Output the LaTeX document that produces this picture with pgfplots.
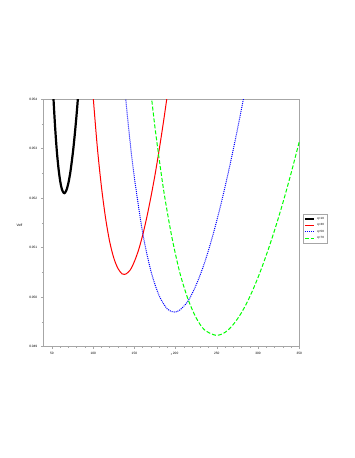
\documentclass[border=0pt]{standalone}
\usepackage{fontspec}
\setmainfont{Liberation Sans}
\usepackage{pgfplots}
\pgfplotsset{compat=1.18}

\begin{document}
\begin{tikzpicture}
\path[use as bounding box] (-43.3pt,-111.3pt) rectangle (310.7pt,346.7pt);
\begin{axis}[
  scale only axis,
  width=256pt, height=247.7pt,
  xmin=39.5, xmax=350,
  ymin=0.049, ymax=0.054,
  xtick={50,100,...,350},
  ytick={0.049,0.050,0.051,0.052,0.053,0.054},
  minor x tick num=4,
  minor y tick num=1,
  xtick pos=bottom, ytick pos=left,
  tick align=outside,
  major tick length=2.5pt, minor tick length=1.5pt,
  axis line style={gray!70, line width=0.8pt},
  tick style={gray!70, line width=0.5pt},
  /pgf/number format/assume math mode=true,
  yticklabel style={/pgf/number format/fixed, /pgf/number format/precision=3,
    /pgf/number format/fixed zerofill, font=\fontsize{3.2}{3.6}\selectfont},
  xticklabel style={font=\fontsize{3.2}{3.6}\selectfont},
  scaled y ticks=false,
  xlabel={r}, ylabel={Veff},
  xlabel style={font=\fontsize{3.2}{3.6}\selectfont, yshift=8pt},
  ylabel style={font=\fontsize{3.4}{3.8}\selectfont, rotate=-90, at={(axis description cs:-0.093,0.49)}, anchor=center},
  legend style={at={(axis description cs:1.014,0.477)}, anchor=west,
    draw=gray!70, font=\fontsize{3}{3.4}\selectfont,
    inner sep=0.8pt, row sep=-1.2pt},
  legend cell align=left,
  legend image code/.code={\draw[#1] (0cm,0cm) -- (0.32cm,0cm);},
]

% q=10
\addplot[black, line width=2.2pt, smooth] coordinates {
(50,0.05468) (52,0.05396) (54,0.05339) (56,0.05293) (58,0.05259) (60,0.05234)
(62,0.05218) (64,0.05211) (65,0.05210) (66,0.05211) (68,0.05218) (70,0.05231)
(72,0.05249) (74,0.05273) (76,0.05301) (78,0.05334) (80,0.05371) (82,0.05412)};
\addlegendentry{q=10}

% q=30
\addplot[red, line width=1pt, smooth] coordinates {
(100,0.05404) (105,0.05303) (110,0.05223) (115,0.05160) (120,0.05112) (125,0.05079)
(130,0.05058) (135,0.05047) (137.7,0.05046) (140,0.05047) (145,0.05055) (150,0.05072)
(155,0.05095) (160,0.05125) (165,0.05161) (170,0.05202) (175,0.05247) (180,0.05297)
(185,0.05351) (190,0.05409) (195,0.05470)};
\addlegendentry{q=30}

% q=50
\addplot[blue, line width=1pt, densely dotted, smooth] coordinates {
(135,0.05483) (140,0.05391) (145,0.05310) (150,0.05241) (160,0.05130) (170,0.05053)
(180,0.05003) (190,0.04976) (198.4,0.04970) (205,0.04974) (215,0.04992) (225,0.05025)
(235,0.05069) (245,0.05124) (255,0.05188) (265,0.05260) (275,0.05339) (285,0.05424)};
\addlegendentry{q=50}

% q=70
\addplot[green, line width=1pt, dash pattern=on 4pt off 2pt, smooth] coordinates {
(168,0.05445) (175,0.05342) (185,0.05221) (195,0.05125) (205,0.05050) (215,0.04996)
(225,0.04958) (235,0.04934) (249,0.04923) (260,0.04929) (270,0.04945) (280,0.04969)
(290,0.05001) (300,0.05040) (310,0.05085) (320,0.05135) (330,0.05190) (340,0.05250)
(350,0.05314)};
\addlegendentry{q=70}
\end{axis}
\end{tikzpicture}
\end{document}
